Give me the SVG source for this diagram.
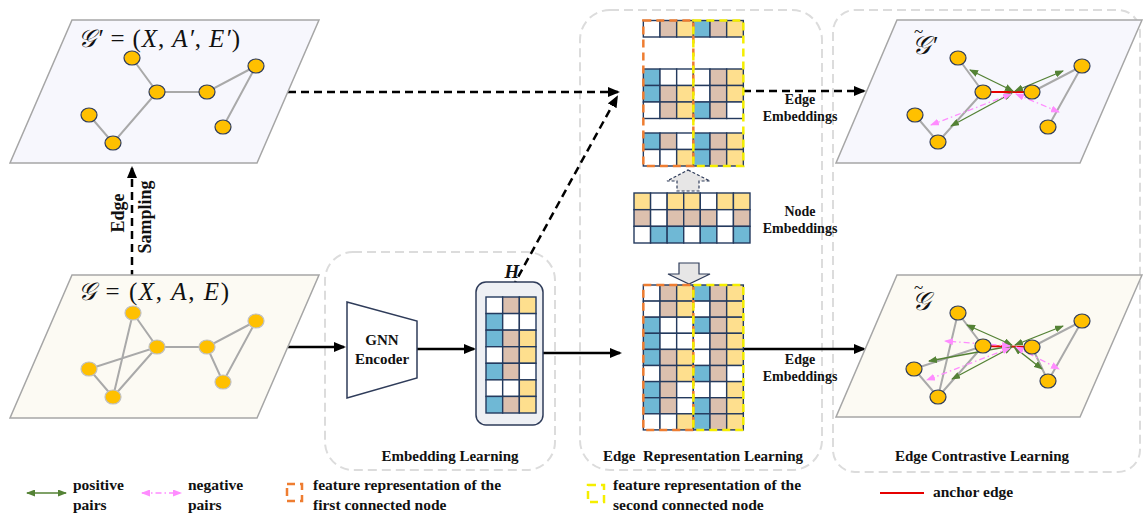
<svg xmlns="http://www.w3.org/2000/svg" width="1143" height="517" viewBox="0 0 1143 517">
  <style>
    .lbl { font-family: "Liberation Serif", "Times New Roman", serif; font-weight: bold; fill: #111; }
    .math { font-family: "Liberation Serif", "DejaVu Serif", serif; font-style: italic; fill: #111; }
    .up { font-style: normal; }
    .plane-a { fill: #f7f7fd; stroke: #a6a6a6; stroke-width: 1.5; }
    .plane-b { fill: #fcfaf3; stroke: #a6a6a6; stroke-width: 1.5; }
    .edge { stroke: #a9a9a9; stroke-width: 2; fill: none; }
    .node { fill: #ffc000; stroke: #2f3c5a; stroke-width: 1.2; }
    .node-l { fill: #ffc000; stroke: #c0c0c0; stroke-width: 1.2; }
    .section { fill: none; stroke: #dcdcdc; stroke-width: 2; stroke-dasharray: 9 5; }
    .cells rect { stroke: #243a5e; stroke-width: 1.4; }
    .b { fill: #6fb8d5; }
    .t { fill: #dcc0ae; }
    .y { fill: #fedf8e; }
    .w { fill: #ffffff; }
    .fst { fill: none; stroke: #ee7d31; stroke-width: 2.5; stroke-dasharray: 8 5; }
    .snd { fill: none; stroke: #f5ee00; stroke-width: 2.5; stroke-dasharray: 8 5; }
    .solid { stroke: #000; stroke-width: 2.5; fill: none; }
    .dash { stroke: #000; stroke-width: 2.5; fill: none; stroke-dasharray: 8 5; }
    .pos { stroke: #548235; stroke-width: 1.3; fill: none; marker-start: url(#gh); marker-end: url(#gh); }
    .neg { stroke: #ff8cff; stroke-width: 1.3; fill: none; stroke-dasharray: 6 3 1.5 3; marker-start: url(#ph); marker-end: url(#ph); }
    .anchor { stroke: #e60000; stroke-width: 2; }
  </style>
  <defs>
    <marker id="ah" markerUnits="userSpaceOnUse" markerWidth="12" markerHeight="10" refX="10" refY="5" orient="auto">
      <path d="M0,0 L12,5 L0,10 z" fill="#000"/>
    </marker>
    <marker id="gh" markerUnits="userSpaceOnUse" markerWidth="9" markerHeight="7" refX="8" refY="3.5" orient="auto-start-reverse">
      <path d="M0,0 L9,3.5 L0,7 z" fill="#548235"/>
    </marker>
    <marker id="ph" markerUnits="userSpaceOnUse" markerWidth="9" markerHeight="7" refX="8" refY="3.5" orient="auto-start-reverse">
      <path d="M0,0 L9,3.5 L0,7 z" fill="#ff8cff"/>
    </marker>
  </defs>

  <!-- section frames -->
  <g id="sections">
    <rect class="section" x="325" y="252" width="230" height="218" rx="28"/>
    <rect class="section" x="580" y="10" width="242" height="460" rx="30"/>
    <rect class="section" x="833" y="10" width="307" height="462" rx="22"/>
    <text class="lbl" x="450" y="461" font-size="15" text-anchor="middle">Embedding Learning</text>
    <text class="lbl" x="703" y="461" font-size="15" text-anchor="middle" style="white-space:pre">Edge  Representation Learning</text>
    <text class="lbl" x="982" y="461" font-size="15" text-anchor="middle">Edge Contrastive Learning</text>
  </g>

  <!-- connectors -->
  <g id="connectors">
    <line class="dash" x1="132" y1="278" x2="132" y2="168" marker-end="url(#ah)"/>
    <line class="dash" x1="288" y1="92" x2="618" y2="92" marker-end="url(#ah)"/>
    <line class="dash" x1="512" y1="288" x2="617" y2="97" marker-end="url(#ah)"/>
    <line class="solid" x1="288" y1="347" x2="344" y2="347" marker-end="url(#ah)"/>
    <line class="solid" x1="417" y1="349" x2="474" y2="349" marker-end="url(#ah)"/>
    <line class="solid" x1="543" y1="353" x2="620" y2="353" marker-end="url(#ah)"/>
    <line class="dash" x1="743" y1="91" x2="864" y2="91" marker-end="url(#ah)"/>
    <line class="solid" x1="743" y1="349" x2="864" y2="349" marker-end="url(#ah)"/>
    <text class="lbl" font-size="18" transform="translate(124,213) rotate(-90)" text-anchor="middle">Edge</text>
    <text class="lbl" font-size="18" transform="translate(151,217) rotate(-90)" text-anchor="middle">Sampling</text>
    <text class="lbl" x="800" y="104" font-size="14" text-anchor="middle">Edge</text>
    <text class="lbl" x="800" y="121" font-size="14" text-anchor="middle">Embeddings</text>
    <text class="lbl" x="800" y="364" font-size="14" text-anchor="middle">Edge</text>
    <text class="lbl" x="800" y="381" font-size="14" text-anchor="middle">Embeddings</text>
  </g>

  <!-- sampled graph G' -->
  <g id="graph-sampled">
    <polygon class="plane-a" points="72,20 319,20 257,163 10,163"/>
    <text class="math" x="78" y="47" font-size="25" textLength="162" lengthAdjust="spacing">𝒢′ <tspan class="up">= (</tspan>X<tspan class="up">, </tspan>A′<tspan class="up">, </tspan>E′<tspan class="up">)</tspan></text>
    <path class="edge" d="M132,58 L157,92 L207,92 L256,66 L223,127 M157,92 L113,143 L89,115"/>
    <ellipse class="node" cx="132" cy="58" rx="8" ry="7"/>
    <ellipse class="node" cx="157" cy="92" rx="8" ry="7"/>
    <ellipse class="node" cx="207" cy="92" rx="8" ry="7"/>
    <ellipse class="node" cx="256" cy="66" rx="8" ry="7"/>
    <ellipse class="node" cx="89" cy="115" rx="8" ry="7"/>
    <ellipse class="node" cx="113" cy="143" rx="8" ry="7"/>
    <ellipse class="node" cx="223" cy="127" rx="8" ry="7"/>
  </g>

  <!-- original graph G -->
  <g id="graph-original">
    <polygon class="plane-b" points="72,275 319,275 257,418 10,418"/>
    <text class="math" x="78" y="300" font-size="25" textLength="151" lengthAdjust="spacing">𝒢 <tspan class="up">= (</tspan>X<tspan class="up">, </tspan>A<tspan class="up">, </tspan>E<tspan class="up">)</tspan></text>
    <path class="edge" d="M133,313 L157,347 L207,347 L256,321 L223,382 L207,347 M133,313 L113,397 L89,369 L157,347 L113,397"/>
    <ellipse class="node-l" cx="133" cy="313" rx="8" ry="7"/>
    <ellipse class="node-l" cx="157" cy="347" rx="8" ry="7"/>
    <ellipse class="node-l" cx="207" cy="347" rx="8" ry="7"/>
    <ellipse class="node-l" cx="256" cy="321" rx="8" ry="7"/>
    <ellipse class="node-l" cx="89" cy="369" rx="8" ry="7"/>
    <ellipse class="node-l" cx="113" cy="397" rx="8" ry="7"/>
    <ellipse class="node-l" cx="223" cy="382" rx="8" ry="7"/>
  </g>

  <!-- GNN encoder -->
  <g id="gnn-encoder">
    <polygon points="347,302 417,321 417,378 347,398" fill="#fff" stroke="#2f3c5a" stroke-width="1.5"/>
    <text class="lbl" x="382" y="345" font-size="15" text-anchor="middle">GNN</text>
    <text class="lbl" x="382" y="364" font-size="15" text-anchor="middle">Encoder</text>
  </g>

  <!-- node embedding matrix H -->
  <g id="h-matrix">
    <rect x="476" y="282" width="67" height="143" rx="10" fill="#eef0f4" stroke="#2f3c5a" stroke-width="1.5"/>
    <text x="512" y="278" font-family="Liberation Serif, serif" font-size="19" font-weight="bold" font-style="italic" text-anchor="middle" fill="#111">H</text>
    <g class="cells">
      <rect class="w" x="486" y="297" width="16.67" height="16.57"/><rect class="t" x="502.67" y="297" width="16.67" height="16.57"/><rect class="y" x="519.33" y="297" width="16.67" height="16.57"/>
      <rect class="b" x="486" y="313.57" width="16.67" height="16.57"/><rect class="w" x="502.67" y="313.57" width="16.67" height="16.57"/><rect class="w" x="519.33" y="313.57" width="16.67" height="16.57"/>
      <rect class="b" x="486" y="330.14" width="16.67" height="16.57"/><rect class="t" x="502.67" y="330.14" width="16.67" height="16.57"/><rect class="y" x="519.33" y="330.14" width="16.67" height="16.57"/>
      <rect class="w" x="486" y="346.71" width="16.67" height="16.57"/><rect class="t" x="502.67" y="346.71" width="16.67" height="16.57"/><rect class="y" x="519.33" y="346.71" width="16.67" height="16.57"/>
      <rect class="b" x="486" y="363.29" width="16.67" height="16.57"/><rect class="t" x="502.67" y="363.29" width="16.67" height="16.57"/><rect class="w" x="519.33" y="363.29" width="16.67" height="16.57"/>
      <rect class="w" x="486" y="379.86" width="16.67" height="16.57"/><rect class="w" x="502.67" y="379.86" width="16.67" height="16.57"/><rect class="y" x="519.33" y="379.86" width="16.67" height="16.57"/>
      <rect class="b" x="486" y="396.43" width="16.67" height="16.57"/><rect class="t" x="502.67" y="396.43" width="16.67" height="16.57"/><rect class="y" x="519.33" y="396.43" width="16.67" height="16.57"/>
    </g>
  </g>

  <!-- sampled edge embeddings -->
  <g id="edge-matrix-sampled">
    <g class="cells">
      <rect class="w" x="643.33" y="20.5" width="16.67" height="16.5"/><rect class="t" x="660" y="20.5" width="16.67" height="16.5"/><rect class="y" x="676.67" y="20.5" width="16.67" height="16.5"/><rect class="b" x="693.33" y="20.5" width="16.67" height="16.5"/><rect class="t" x="710" y="20.5" width="16.67" height="16.5"/><rect class="y" x="726.67" y="20.5" width="16.67" height="16.5"/>
      <rect class="b" x="643.33" y="69" width="16.67" height="16.5"/><rect class="w" x="660" y="69" width="16.67" height="16.5"/><rect class="w" x="676.67" y="69" width="16.67" height="16.5"/><rect class="w" x="693.33" y="69" width="16.67" height="16.5"/><rect class="t" x="710" y="69" width="16.67" height="16.5"/><rect class="y" x="726.67" y="69" width="16.67" height="16.5"/>
      <rect class="b" x="643.33" y="85.5" width="16.67" height="16.5"/><rect class="t" x="660" y="85.5" width="16.67" height="16.5"/><rect class="y" x="676.67" y="85.5" width="16.67" height="16.5"/><rect class="w" x="693.33" y="85.5" width="16.67" height="16.5"/><rect class="t" x="710" y="85.5" width="16.67" height="16.5"/><rect class="y" x="726.67" y="85.5" width="16.67" height="16.5"/>
      <rect class="w" x="643.33" y="102" width="16.67" height="16.5"/><rect class="t" x="660" y="102" width="16.67" height="16.5"/><rect class="y" x="676.67" y="102" width="16.67" height="16.5"/><rect class="b" x="693.33" y="102" width="16.67" height="16.5"/><rect class="t" x="710" y="102" width="16.67" height="16.5"/><rect class="w" x="726.67" y="102" width="16.67" height="16.5"/>
      <rect class="b" x="643.33" y="133" width="16.67" height="16.5"/><rect class="t" x="660" y="133" width="16.67" height="16.5"/><rect class="w" x="676.67" y="133" width="16.67" height="16.5"/><rect class="b" x="693.33" y="133" width="16.67" height="16.5"/><rect class="t" x="710" y="133" width="16.67" height="16.5"/><rect class="y" x="726.67" y="133" width="16.67" height="16.5"/>
      <rect class="w" x="643.33" y="149.5" width="16.67" height="16.5"/><rect class="w" x="660" y="149.5" width="16.67" height="16.5"/><rect class="y" x="676.67" y="149.5" width="16.67" height="16.5"/><rect class="b" x="693.33" y="149.5" width="16.67" height="16.5"/><rect class="t" x="710" y="149.5" width="16.67" height="16.5"/><rect class="y" x="726.67" y="149.5" width="16.67" height="16.5"/>
    </g>
    <rect class="fst" x="643.33" y="20.5" width="50" height="145.5"/>
    <rect class="snd" x="693.33" y="20.5" width="50" height="145.5"/>
  </g>

  <!-- node embeddings -->
  <g id="node-embeddings">
    <polygon points="688,170 710,181 699,181 699,191 677,191 677,181 667,181" fill="#e7e6e6" stroke="#2f3c5a" stroke-width="1.2" stroke-dasharray="3 2"/>
    <g class="cells">
      <rect class="y" x="634" y="193" width="16.57" height="16.67"/><rect class="w" x="650.57" y="193" width="16.57" height="16.67"/><rect class="y" x="667.14" y="193" width="16.57" height="16.67"/><rect class="y" x="683.71" y="193" width="16.57" height="16.67"/><rect class="w" x="700.29" y="193" width="16.57" height="16.67"/><rect class="y" x="716.86" y="193" width="16.57" height="16.67"/><rect class="y" x="733.43" y="193" width="16.57" height="16.67"/>
      <rect class="t" x="634" y="209.67" width="16.57" height="16.67"/><rect class="w" x="650.57" y="209.67" width="16.57" height="16.67"/><rect class="t" x="667.14" y="209.67" width="16.57" height="16.67"/><rect class="t" x="683.71" y="209.67" width="16.57" height="16.67"/><rect class="t" x="700.29" y="209.67" width="16.57" height="16.67"/><rect class="w" x="716.86" y="209.67" width="16.57" height="16.67"/><rect class="t" x="733.43" y="209.67" width="16.57" height="16.67"/>
      <rect class="w" x="634" y="226.33" width="16.57" height="16.67"/><rect class="b" x="650.57" y="226.33" width="16.57" height="16.67"/><rect class="b" x="667.14" y="226.33" width="16.57" height="16.67"/><rect class="w" x="683.71" y="226.33" width="16.57" height="16.67"/><rect class="b" x="700.29" y="226.33" width="16.57" height="16.67"/><rect class="w" x="716.86" y="226.33" width="16.57" height="16.67"/><rect class="b" x="733.43" y="226.33" width="16.57" height="16.67"/>
    </g>
    <text class="lbl" x="800" y="216" font-size="14" text-anchor="middle">Node</text>
    <text class="lbl" x="800" y="233" font-size="14" text-anchor="middle">Embeddings</text>
    <polygon points="679,263 699,263 699,274 710,274 689,284 668,274 679,274" fill="#e7e6e6" stroke="#2f3c5a" stroke-width="1.2"/>
  </g>

  <!-- full edge embeddings -->
  <g id="edge-matrix-full">
    <g class="cells">
      <rect class="w" x="643.33" y="285" width="16.67" height="16.1"/><rect class="t" x="660" y="285" width="16.67" height="16.1"/><rect class="y" x="676.67" y="285" width="16.67" height="16.1"/><rect class="b" x="693.33" y="285" width="16.67" height="16.1"/><rect class="t" x="710" y="285" width="16.67" height="16.1"/><rect class="y" x="726.67" y="285" width="16.67" height="16.1"/>
      <rect class="w" x="643.33" y="301.1" width="16.67" height="16.1"/><rect class="t" x="660" y="301.1" width="16.67" height="16.1"/><rect class="y" x="676.67" y="301.1" width="16.67" height="16.1"/><rect class="w" x="693.33" y="301.1" width="16.67" height="16.1"/><rect class="t" x="710" y="301.1" width="16.67" height="16.1"/><rect class="y" x="726.67" y="301.1" width="16.67" height="16.1"/>
      <rect class="b" x="643.33" y="317.2" width="16.67" height="16.1"/><rect class="w" x="660" y="317.2" width="16.67" height="16.1"/><rect class="w" x="676.67" y="317.2" width="16.67" height="16.1"/><rect class="b" x="693.33" y="317.2" width="16.67" height="16.1"/><rect class="t" x="710" y="317.2" width="16.67" height="16.1"/><rect class="y" x="726.67" y="317.2" width="16.67" height="16.1"/>
      <rect class="b" x="643.33" y="333.3" width="16.67" height="16.1"/><rect class="w" x="660" y="333.3" width="16.67" height="16.1"/><rect class="w" x="676.67" y="333.3" width="16.67" height="16.1"/><rect class="w" x="693.33" y="333.3" width="16.67" height="16.1"/><rect class="t" x="710" y="333.3" width="16.67" height="16.1"/><rect class="y" x="726.67" y="333.3" width="16.67" height="16.1"/>
      <rect class="b" x="643.33" y="349.4" width="16.67" height="16.1"/><rect class="t" x="660" y="349.4" width="16.67" height="16.1"/><rect class="y" x="676.67" y="349.4" width="16.67" height="16.1"/><rect class="w" x="693.33" y="349.4" width="16.67" height="16.1"/><rect class="t" x="710" y="349.4" width="16.67" height="16.1"/><rect class="y" x="726.67" y="349.4" width="16.67" height="16.1"/>
      <rect class="w" x="643.33" y="365.5" width="16.67" height="16.1"/><rect class="t" x="660" y="365.5" width="16.67" height="16.1"/><rect class="y" x="676.67" y="365.5" width="16.67" height="16.1"/><rect class="b" x="693.33" y="365.5" width="16.67" height="16.1"/><rect class="t" x="710" y="365.5" width="16.67" height="16.1"/><rect class="w" x="726.67" y="365.5" width="16.67" height="16.1"/>
      <rect class="b" x="643.33" y="381.6" width="16.67" height="16.1"/><rect class="t" x="660" y="381.6" width="16.67" height="16.1"/><rect class="w" x="676.67" y="381.6" width="16.67" height="16.1"/><rect class="w" x="693.33" y="381.6" width="16.67" height="16.1"/><rect class="w" x="710" y="381.6" width="16.67" height="16.1"/><rect class="y" x="726.67" y="381.6" width="16.67" height="16.1"/>
      <rect class="b" x="643.33" y="397.7" width="16.67" height="16.1"/><rect class="t" x="660" y="397.7" width="16.67" height="16.1"/><rect class="w" x="676.67" y="397.7" width="16.67" height="16.1"/><rect class="b" x="693.33" y="397.7" width="16.67" height="16.1"/><rect class="t" x="710" y="397.7" width="16.67" height="16.1"/><rect class="y" x="726.67" y="397.7" width="16.67" height="16.1"/>
      <rect class="w" x="643.33" y="413.8" width="16.67" height="16.1"/><rect class="w" x="660" y="413.8" width="16.67" height="16.1"/><rect class="y" x="676.67" y="413.8" width="16.67" height="16.1"/><rect class="b" x="693.33" y="413.8" width="16.67" height="16.1"/><rect class="t" x="710" y="413.8" width="16.67" height="16.1"/><rect class="y" x="726.67" y="413.8" width="16.67" height="16.1"/>
    </g>
    <rect class="fst" x="643.33" y="285" width="50" height="144.9"/>
    <rect class="snd" x="693.33" y="285" width="50" height="144.9"/>
  </g>

  <!-- contrastive view of G' -->
  <g id="contrast-sampled">
    <polygon class="plane-a" points="897,20 1142,20 1080,163 836,163"/>
    <text class="math" x="912" y="54" font-size="26">𝒢<tspan class="up" dx="-17" dy="-17" font-size="17">~</tspan><tspan dx="8" dy="17">′</tspan></text>
    <path class="edge" d="M958,58 L983,92 M1032,92 L1082,66 L1048,127 M983,92 L938,142 L915,115"/>
    <line class="anchor" x1="983" y1="92" x2="1032" y2="92"/>
    <line class="pos" x1="1013" y1="91" x2="970" y2="70"/>
    <line class="pos" x1="1015" y1="91" x2="1063" y2="71"/>
    <line class="pos" x1="1012" y1="93" x2="951" y2="126"/>
    <line class="neg" x1="1011" y1="94" x2="931" y2="125"/>
    <line class="neg" x1="1016" y1="94" x2="1059" y2="112"/>
    <ellipse class="node" cx="958" cy="58" rx="8" ry="7"/>
    <ellipse class="node" cx="983" cy="92" rx="8" ry="7"/>
    <ellipse class="node" cx="1032" cy="92" rx="8" ry="7"/>
    <ellipse class="node" cx="1082" cy="66" rx="8" ry="7"/>
    <ellipse class="node" cx="915" cy="115" rx="8" ry="7"/>
    <ellipse class="node" cx="938" cy="142" rx="8" ry="7"/>
    <ellipse class="node" cx="1048" cy="127" rx="8" ry="7"/>
  </g>

  <!-- contrastive view of G -->
  <g id="contrast-original">
    <polygon class="plane-b" points="897,275 1142,275 1080,417 836,417"/>
    <text class="math" x="912" y="310" font-size="26">𝒢<tspan class="up" dx="-17" dy="-17" font-size="17">~</tspan></text>
    <path class="edge" d="M958,313 L983,346 L914,369 L938,397 L958,313 M983,346 L938,397 M1032,347 L1082,321 L1048,381 L1032,347"/>
    <line class="anchor" x1="983" y1="346" x2="1032" y2="347"/>
    <line class="pos" x1="1012" y1="345" x2="967" y2="325"/>
    <line class="pos" x1="1015" y1="345" x2="1063" y2="326"/>
    <line class="pos" x1="1011" y1="346" x2="929" y2="361"/>
    <line class="pos" x1="1012" y1="347" x2="952" y2="379"/>
    <line class="pos" x1="1014" y1="347" x2="1042" y2="369"/>
    <line class="neg" x1="1010" y1="346" x2="945" y2="341"/>
    <line class="neg" x1="1010" y1="348" x2="927" y2="380"/>
    <line class="neg" x1="1016" y1="347" x2="1059" y2="369"/>
    <ellipse class="node" cx="958" cy="313" rx="8" ry="7"/>
    <ellipse class="node" cx="983" cy="346" rx="8" ry="7"/>
    <ellipse class="node" cx="1032" cy="347" rx="8" ry="7"/>
    <ellipse class="node" cx="1082" cy="321" rx="8" ry="7"/>
    <ellipse class="node" cx="914" cy="369" rx="8" ry="7"/>
    <ellipse class="node" cx="938" cy="397" rx="8" ry="7"/>
    <ellipse class="node" cx="1048" cy="381" rx="8" ry="7"/>
  </g>

  <!-- legend -->
  <g id="legend">
    <line class="pos" x1="27" y1="493" x2="66" y2="493"/>
    <text class="lbl" x="73" y="490" font-size="15.5">positive</text>
    <text class="lbl" x="73" y="510" font-size="15.5">pairs</text>
    <line class="neg" x1="142" y1="493" x2="181" y2="493"/>
    <text class="lbl" x="188" y="490" font-size="15.5">negative</text>
    <text class="lbl" x="188" y="510" font-size="15.5">pairs</text>
    <rect class="fst" x="287" y="484" width="15" height="17" stroke-dasharray="7 5"/>
    <text class="lbl" x="313" y="490" font-size="15.5">feature representation of the</text>
    <text class="lbl" x="313" y="510" font-size="15.5">first connected node</text>
    <rect class="snd" x="588" y="485" width="16" height="17" stroke-dasharray="7 5"/>
    <text class="lbl" x="613" y="490" font-size="15.5">feature representation of the</text>
    <text class="lbl" x="613" y="510" font-size="15.5">second connected node</text>
    <line class="anchor" x1="880" y1="493" x2="924" y2="493"/>
    <text class="lbl" x="933" y="497" font-size="15.5">anchor edge</text>
  </g>
</svg>
